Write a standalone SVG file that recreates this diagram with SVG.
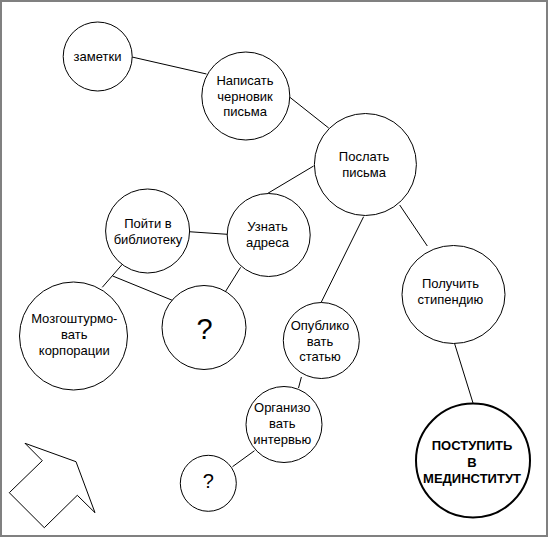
<svg xmlns="http://www.w3.org/2000/svg" width="549" height="538" viewBox="0 0 549 538">
<style>
.n{fill:#fff;stroke:#000;stroke-width:1}
.b{fill:#fff;stroke:#000;stroke-width:2}
.t{font-family:"Liberation Sans",Arial,sans-serif;font-size:13px;fill:#000;text-anchor:middle}
.tb{font-weight:bold}
.c line{stroke:#000;stroke-width:1}
</style>
<rect x="1" y="1" width="546" height="535" fill="#fff" stroke="#808080" stroke-width="2"/>
<g class="c" id="connectors">
<line x1="132" y1="57" x2="206.5" y2="74"/>
<line x1="289.5" y1="97" x2="328.7" y2="128"/>
<line x1="313.6" y1="166" x2="267.5" y2="193.5"/>
<line x1="188.8" y1="231.7" x2="227.3" y2="234.3"/>
<line x1="122.3" y1="264.3" x2="102.3" y2="287.3"/>
<line x1="112.7" y1="276" x2="174" y2="301"/>
<line x1="240.6" y1="267.3" x2="225" y2="292.3"/>
<line x1="363.6" y1="216.7" x2="321" y2="302.7"/>
<line x1="399.7" y1="205" x2="427.3" y2="246"/>
<line x1="454.5" y1="343.3" x2="473" y2="403"/>
<line x1="301.4" y1="377" x2="298.5" y2="388"/>
<line x1="254.5" y1="450.7" x2="232.5" y2="466.7"/>
</g>
<g id="zametki"><circle class="n" cx="97.7" cy="56.5" r="34.5"/><text class="t" x="97.5" y="61">заметки</text></g>
<g id="napisat"><circle class="n" cx="245.8" cy="96" r="44"/><text class="t" x="245" y="84.5">Написать</text><text class="t" x="245" y="100.5">черновик</text><text class="t" x="245" y="116">письма</text></g>
<g id="poslat"><circle class="n" cx="365.4" cy="164.5" r="51"/><text class="t" x="364" y="161">Послать</text><text class="t" x="364" y="177">письма</text></g>
<g id="pojti"><circle class="n" cx="147.6" cy="231" r="42"/><text class="t" x="148" y="228">Пойти в</text><text class="t" x="148" y="244">библиотеку</text></g>
<g id="uznat"><circle class="n" cx="268.7" cy="235" r="41.5"/><text class="t" x="267.5" y="231">Узнать</text><text class="t" x="267.5" y="247">адреса</text></g>
<g id="mozg"><circle class="n" cx="73.5" cy="336" r="54"/><text class="t" x="74.3" y="323">Мозгоштурмо-</text><text class="t" x="74.3" y="339">вать</text><text class="t" x="74.3" y="355">корпорации</text></g>
<g id="q1"><circle class="n" cx="204" cy="327.5" r="42"/><text class="t" x="204.5" y="339" style="font-size:29px">?</text></g>
<g id="opublikovat"><circle class="n" cx="321.3" cy="340.5" r="38"/><text class="t" x="320" y="330">Опублико</text><text class="t" x="320" y="346">вать</text><text class="t" x="320" y="361">статью</text></g>
<g id="poluchit"><ellipse class="n" cx="453.5" cy="294.5" rx="51.5" ry="49"/><text class="t" x="450.5" y="287.5">Получить</text><text class="t" x="450.5" y="303.5">стипендию</text></g>
<g id="organizovat"><circle class="n" cx="284" cy="424.5" r="38"/><text class="t" x="282.3" y="412">Организо</text><text class="t" x="282.3" y="428">вать</text><text class="t" x="282.3" y="444">интервью</text></g>
<g id="q2"><circle class="n" cx="208.3" cy="483.3" r="28"/><text class="t" x="208.3" y="487.5" style="font-size:20px">?</text></g>
<g id="postupit"><circle class="b" cx="473" cy="460.5" r="57"/><text class="t tb" x="472" y="450">ПОСТУПИТЬ</text><text class="t tb" x="472" y="466.5">В</text><text class="t tb" x="472" y="483">МЕДИНСТИТУТ</text></g>
<g id="arrow"><polygon points="25,443.3 76,461.7 95,512.7 77.3,495.3 44.3,527.7 9.3,492.7 42.3,460.7" fill="none" stroke="#000" stroke-width="1"/></g>
</svg>
